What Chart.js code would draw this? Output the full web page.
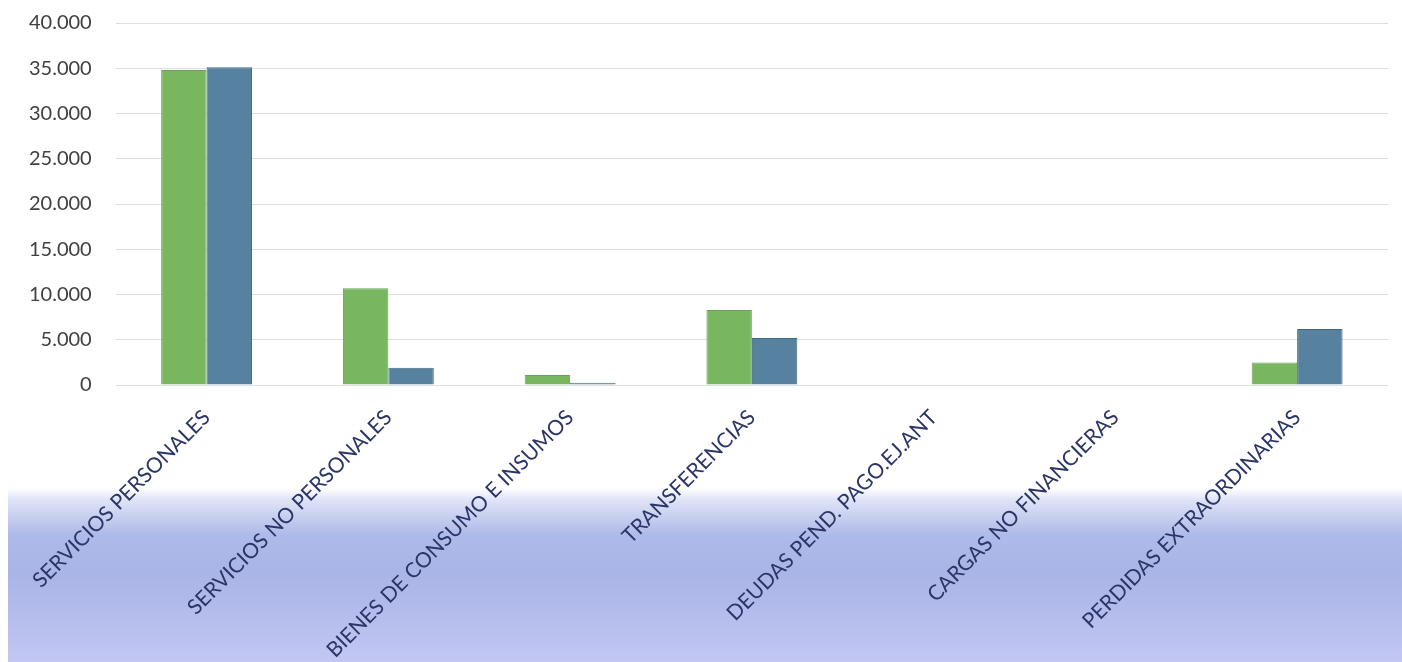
<!DOCTYPE html>
<html>
<head>
<meta charset="utf-8">
<script src="https://cdn.jsdelivr.net/npm/chart.js@4"></script>
<style>
    html, body { margin: 0; padding: 0; background: #ffffff; }
    #wrap {
        position: relative;
        width: 1402px;
        height: 662px;
        background:
            linear-gradient(to bottom, #ffffff 0px, #ffffff 488px, #dfe3f7 500px, #aebae8 535px, #a9b5e6 570px, #b4bdec 615px, #c3c7f2 662px) 8px 0 / 1394px 662px no-repeat,
            #ffffff;
    }
    canvas { position: absolute; left: 0; top: 0; }
</style>
</head>
<body>
<div id="wrap">
    <canvas id="grafico" width="1402" height="662"></canvas>
</div>
<script>
const categorias = [
    'SERVICIOS PERSONALES',
    'SERVICIOS NO PERSONALES',
    'BIENES DE CONSUMO E INSUMOS',
    'TRANSFERENCIAS',
    'DEUDAS PEND. PAGO.EJ.ANT',
    'CARGAS NO FINANCIERAS',
    'PERDIDAS EXTRAORDINARIAS'
];
const serie1 = [34800, 10700, 1100, 8300, 0, 0, 2500];
const serie2 = [35100, 1900, 250, 5200, 0, 0, 6200];
const yMin = 0;
const yMax = 40000;
const yPaso = 5000;

// formato con punto de miles
function formatoMiles(v) {
    return String(Math.round(v)).replace(/\B(?=(\d{3})+(?!\d))/g, '.');
}

const ctx = document.getElementById('grafico');

const grafico = new Chart(ctx, {
    type: 'bar',
    data: {
        labels: categorias,
        datasets: [{
            label: 'Serie 1',
            data: serie1,
            backgroundColor: '#79b660',
            borderColor: '#6aa552',
            borderWidth: 1
        }, {
            label: 'Serie 2',
            data: serie2,
            backgroundColor: '#56819f',
            borderColor: '#3f6882',
            borderWidth: 1
        }]
    },
    options: {
        responsive: false,
        animation: false,
        categoryPercentage: 0.5,
        barPercentage: 1.0,
        layout: {
            padding: { left: 5, right: 14, top: 23, bottom: 0 }
        },
        plugins: {
            legend: { display: false },
            tooltip: { enabled: false }
        },
        scales: {
            x: {
                grid: { display: false },
                border: { display: false },
                ticks: {
                    minRotation: 45,
                    maxRotation: 45,
                    autoSkip: false,
                    padding: 12,
                    color: '#2b3566',
                    font: { family: 'Lato', size: 21 }
                },
                afterFit: s => { s.height = 277; }
            },
            y: {
                min: yMin,
                max: yMax,
                grid: {
                    color: '#e0e0e0',
                    drawTicks: false
                },
                border: { display: false },
                ticks: {
                    stepSize: yPaso,
                    padding: 24,
                    color: '#404040',
                    font: { family: 'Lato', size: 20 },
                    callback: v => formatoMiles(v)
                },
                afterFit: s => { s.paddingTop = 0; }
            }
        }
    }
});
</script>
</body>
</html>
